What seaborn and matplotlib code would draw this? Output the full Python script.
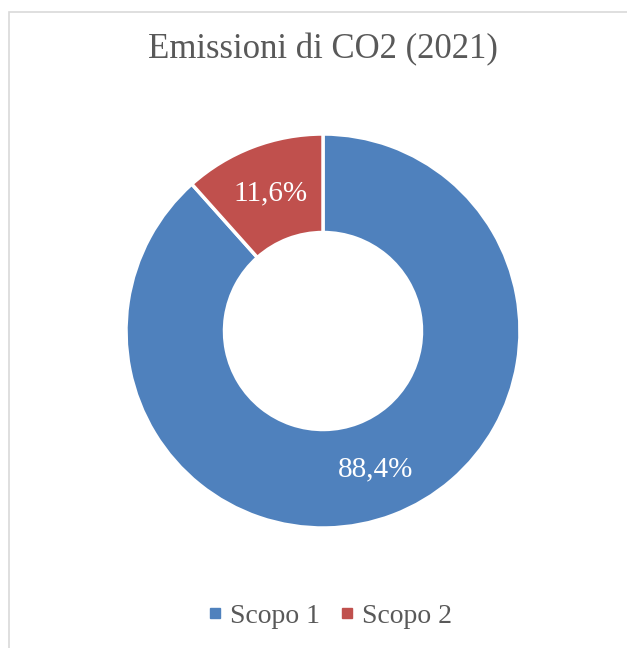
import matplotlib
matplotlib.use("Agg")
import matplotlib.pyplot as plt
from matplotlib.lines import Line2D
from matplotlib.patches import Rectangle
import seaborn as sns

# CO2 emissions share by scope, 2021
categories = ["Scopo 1", "Scopo 2"]
shares = [88.4, 11.6]
title = "Emissioni di CO2 (2021)"

sns.set_theme(style="white")
plt.rcParams["font.family"] = ["Liberation Serif", "DejaVu Serif"]

colors = ["#4F81BD", "#C0504D"]
W, H = 627, 648
fig = plt.figure(figsize=(W / 100, H / 100), dpi=100)

# light frame around the chart area
fig.patches.append(Rectangle((8.5 / W, -0.05), 1.1, 1 - 11.5 / H + 0.05,
                             transform=fig.transFigure, fill=False,
                             edgecolor="#D9D9D9", linewidth=1.2))

cx, cy, r = 323, 331, 197
ax = fig.add_axes([(cx - r) / W, (H - cy - r) / H, 2 * r / W, 2 * r / H])

wedges, _, autotexts = ax.pie(
    shares, colors=colors, startangle=90, counterclock=False, radius=1,
    wedgeprops=dict(width=0.5, edgecolor="white", linewidth=2.5),
    autopct=lambda p: f"{p:.1f}%".replace(".", ","), pctdistance=0.75,
    textprops=dict(color="white", fontsize=21))
ax.set_xlim(-1, 1)
ax.set_ylim(-1, 1)
ax.set_aspect("equal")
ax.axis("off")

fig.text(cx / W, 1 - 50 / H, title, ha="center", va="center",
         fontsize=25, color="#595959")

handles = [Line2D([], [], marker="s", linestyle="none", markersize=7,
                  markerfacecolor=c, markeredgecolor=c) for c in colors]
fig.legend(handles, categories, loc="center", bbox_to_anchor=(330 / W, 1 - 616 / H),
           ncol=2, frameon=False, fontsize=20, labelcolor="#595959",
           handletextpad=0.3, columnspacing=0.7, handlelength=0.5)

fig.savefig("out.png", dpi=100, facecolor="white")
